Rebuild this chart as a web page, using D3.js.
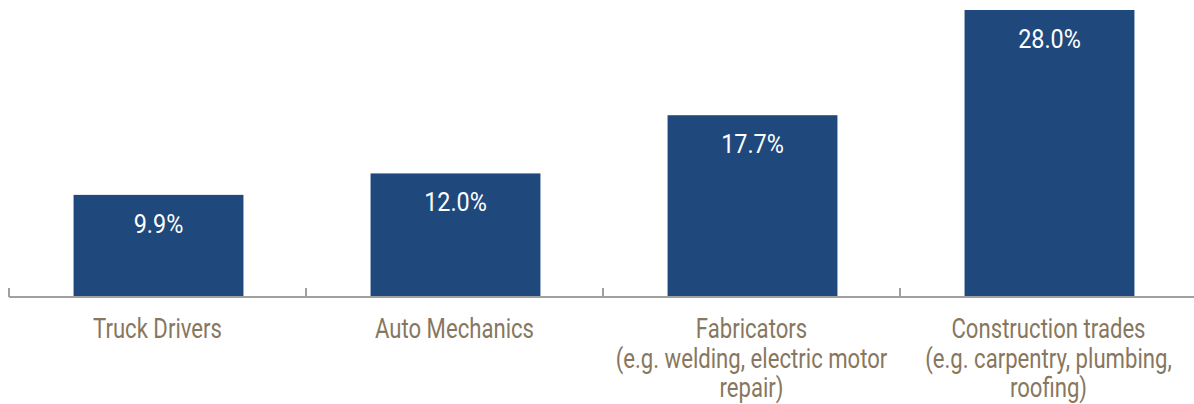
<!DOCTYPE html>
<html>
<head>
<meta charset="utf-8">
<script src="https://cdn.jsdelivr.net/npm/d3@7"></script>
<style>
  html, body { margin: 0; padding: 0; background: #fff; }
  svg { display: block; }
</style>
</head>
<body>
<svg id="chart" width="1194" height="404"></svg>
<script>
const categories = ["Truck Drivers", "Auto Mechanics", "Fabricators", "Construction trades"];
const categoryLines = [
  ["Truck Drivers"],
  ["Auto Mechanics"],
  ["Fabricators", "(e.g. welding, electric motor", "repair)"],
  ["Construction trades", "(e.g. carpentry, plumbing,", "roofing)"]
];
const values = [9.9, 12.0, 17.7, 28.0];
const valueLabels = ["9.9%", "12.0%", "17.7%", "28.0%"];

const svg = d3.select("#chart");
const baseY = 296;

const xTicks = d3.scaleBand().domain(categories).range([9, 1197]).padding(0);
const x = d3.scaleBand().domain(categories).range([10, 1198])
  .paddingInner(0.428).paddingOuter(0.214);
const y = d3.scaleLinear().domain([0, 28]).range([baseY, 10]);

const barColor = "#1f497d";
const labelColor = "#87775e";
const axisColor = "#a0a0a0";

// bars
svg.append("g").selectAll("rect").data(categories).join("rect")
  .attr("x", d => x(d))
  .attr("y", (d, i) => y(values[i]))
  .attr("width", x.bandwidth())
  .attr("height", (d, i) => baseY - y(values[i]))
  .attr("fill", barColor);

// value labels
svg.append("g").selectAll("text").data(categories).join("text")
  .attr("transform", (d, i) => `translate(${x(d) + x.bandwidth() / 2},${y(values[i]) + 38}) scale(0.9,1)`)
  .attr("text-anchor", "middle")
  .attr("font-family", "Roboto, 'Liberation Sans', sans-serif")
  .attr("font-size", 26)
  .attr("fill", "#ffffff")
  .text((d, i) => valueLabels[i]);

// axis line
const axisG = svg.append("g");
axisG.append("line")
  .attr("x1", 9).attr("x2", 1194)
  .attr("y1", baseY + 1).attr("y2", baseY + 1)
  .attr("stroke", axisColor).attr("stroke-width", 2);

const tickPos = categories.map(d => xTicks(d)).concat([xTicks.range()[1]]);
axisG.selectAll("line.tick").data(tickPos).join("line")
  .attr("class", "tick")
  .attr("x1", d => d).attr("x2", d => d)
  .attr("y1", baseY - 8).attr("y2", baseY + 1)
  .attr("stroke", axisColor).attr("stroke-width", 2);

// category labels
const catG = svg.append("g").selectAll("g").data(categories).join("g")
  .attr("transform", d => `translate(${xTicks(d) + xTicks.bandwidth() / 2},338)`);
catG.each(function(d, i) {
  const g = d3.select(this);
  categoryLines[i].forEach((line, j) => {
    g.append("text")
      .attr("transform", `translate(0,${j * 29.5}) scale(0.82,1)`)
      .attr("text-anchor", "middle")
      .attr("font-family", "Roboto, 'Liberation Sans', sans-serif")
      .attr("font-size", 27)
      .attr("fill", labelColor)
      .text(line);
  });
});
</script>
</body>
</html>
